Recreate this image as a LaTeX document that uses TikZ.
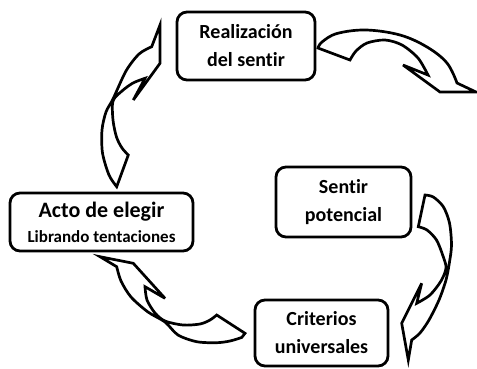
\documentclass[tikz,border=0pt]{standalone}
\usepackage{fontspec}
\setmainfont[Ligatures=NoCommon]{Carlito}
\begin{document}
\begin{tikzpicture}[x=1pt,y=-1pt,
  box/.style={draw=black, line width=2.8pt, rounded corners=10pt, fill=white, align=center,
    font=\bfseries\fontsize{20}{28}\selectfont, inner sep=0pt},
  carrow/.style={draw=black, line width=2.7pt, fill=white, line join=miter, miter limit=6}]
\useasboundingbox (0,0) rectangle (477,368);

% boxes
\node[box, minimum width=138pt, minimum height=68pt] (real) at (246,46) {Realización\\del sentir};
\node[box, minimum width=135pt, minimum height=70pt] (sent) at (343.5,202) {Sentir\\potencial};
\node[box, minimum width=133pt, minimum height=66pt] (crit) at (321.5,333) {Criterios\\universales};
\node[box, minimum width=183pt, minimum height=58pt] (acto) at (101.5,222)
  {\fontsize{22}{24}\selectfont Acto de elegir\\[-3pt]\fontsize{17}{20}\selectfont Librando tentaciones};

% arrow 1: Realizacion -> Sentir potencial
\draw[carrow] (350,60) -- (318,48)
  -- plot[smooth, tension=0.6] coordinates {(318,48) (322,42) (337,33.5) (366,30) (400,35) (427,47) (447,63) (457,83)}
  -- (476,92) -- (440,92) -- (403,65) -- (428,75)
  -- plot[smooth] coordinates {(428,75) (418,58) (402,45) (385,40) (367,43) (356,51) (350,60)} -- cycle;

% arrow 4: Sentir potencial -> Criterios
\draw[carrow] (425,195) -- (418.3,226.7)
  -- plot[smooth] coordinates {(418.3,226.7) (427,230) (436.5,240) (443,256) (446,268) (441,281) (430,295) (416.7,303.3)}
  -- (421.7,283.3) -- (401.7,323.3) -- (408.3,360) -- (411.7,340)
  -- plot[smooth] coordinates {(411.7,340) (420,333) (429,320) (439,300) (446,280) (449.5,262) (451.5,245) (449.5,223) (443.3,206.7) (433.3,197) (425,195)} -- cycle;

% arrow 3: Criterios -> Acto
\draw[carrow] (116.7,266.7) -- (100,256.7) -- (133.3,263.3) -- (165,298.3) -- (145,286.7)
  -- plot[smooth] coordinates {(145,286.7) (147,300) (155,313) (165,321) (183,325) (200,324) (210,320) (216.7,315)}
  -- (245,333.3) -- (241.7,337.5)
  -- plot[smooth] coordinates {(241.7,337.5) (230,341) (216.7,342.7) (196.7,341.7) (178,335) (165,322) (148,312) (131,297) (121,281) (116.7,266.7)} -- cycle;

% arrow 2: Acto -> Realizacion
\draw[carrow] (116.7,186.7)
  -- plot[smooth] coordinates {(116.7,186.7) (109,175) (102.5,153) (102,130) (106,112) (113,99) (126,71) (139,54) (151.7,46.7)}
  -- (160,25) -- (160,63.3) -- (133.3,100) -- (145,78.3)
  -- plot[smooth] coordinates {(145,78.3) (133,83) (122,91) (113,101) (113,120) (116.5,137) (122,148) (128.3,155)} -- cycle;
\end{tikzpicture}
\end{document}
